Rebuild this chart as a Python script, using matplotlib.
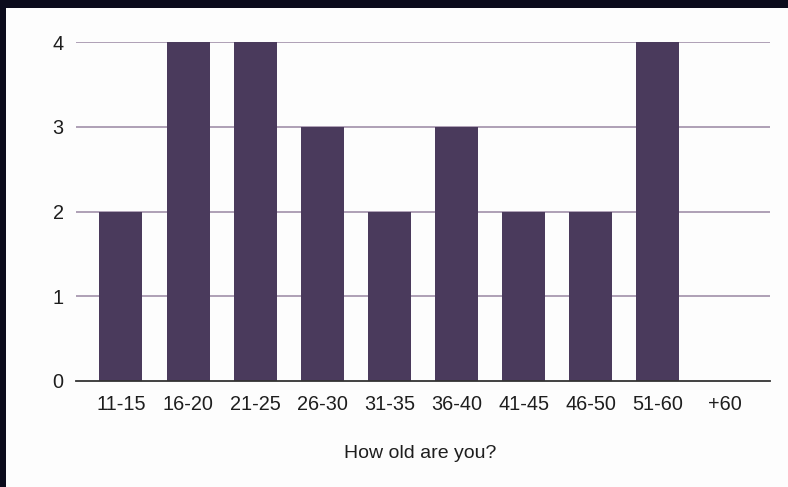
import matplotlib
matplotlib.use("Agg")
import matplotlib.pyplot as plt
from matplotlib.patches import Rectangle

categories = ["11-15", "16-20", "21-25", "26-30", "31-35", "36-40", "41-45", "46-50", "51-60", "+60"]
counts = [2, 4, 4, 3, 2, 3, 2, 2, 4, 0]
yticks = [0, 1, 2, 3, 4]

plt.rcParams['font.family'] = ['Liberation Sans', 'DejaVu Sans']

W, H = 788, 487
fig = plt.figure(figsize=(W / 100, H / 100), dpi=100, facecolor="#0b0b1c")

# white card behind the chart
fig.patches.append(Rectangle((6 / W, 0), 1 - 6 / W, 1 - 8 / H,
                             transform=fig.transFigure, facecolor="#fdfdfd",
                             edgecolor="none", zorder=-10))

ax = fig.add_axes([76 / W, 1 - 381 / H, (770 - 76) / W, (381 - 42) / H])
ax.set_facecolor("none")

x = list(range(len(categories)))
ax.bar(x, counts, width=0.64, color="#4a3a5c", zorder=3)

ax.set_xlim(-0.67, 9.67)
ax.set_ylim(0, 4)
ax.set_yticks(yticks)
ax.set_xticks(x)
ax.set_xticklabels(categories)
ax.tick_params(axis="both", length=0, labelsize=14.3, colors="#1e1e1e")
ax.tick_params(axis="x", pad=10)
ax.tick_params(axis="y", pad=9)

for v in yticks[1:]:
    ax.axhline(v, color="#a899b0", linewidth=1.3, zorder=1)

for s in ["top", "right", "left"]:
    ax.spines[s].set_visible(False)
ax.spines["bottom"].set_color("#333333")
ax.spines["bottom"].set_linewidth(1.3)
ax.spines["bottom"].set_zorder(4)

fig.text(420 / W, 1 - 453 / H, "How old are you?", ha="center", va="center",
         fontsize=14, color="#1e1e1e")

fig.savefig("out.png", dpi=100, facecolor=fig.get_facecolor())
